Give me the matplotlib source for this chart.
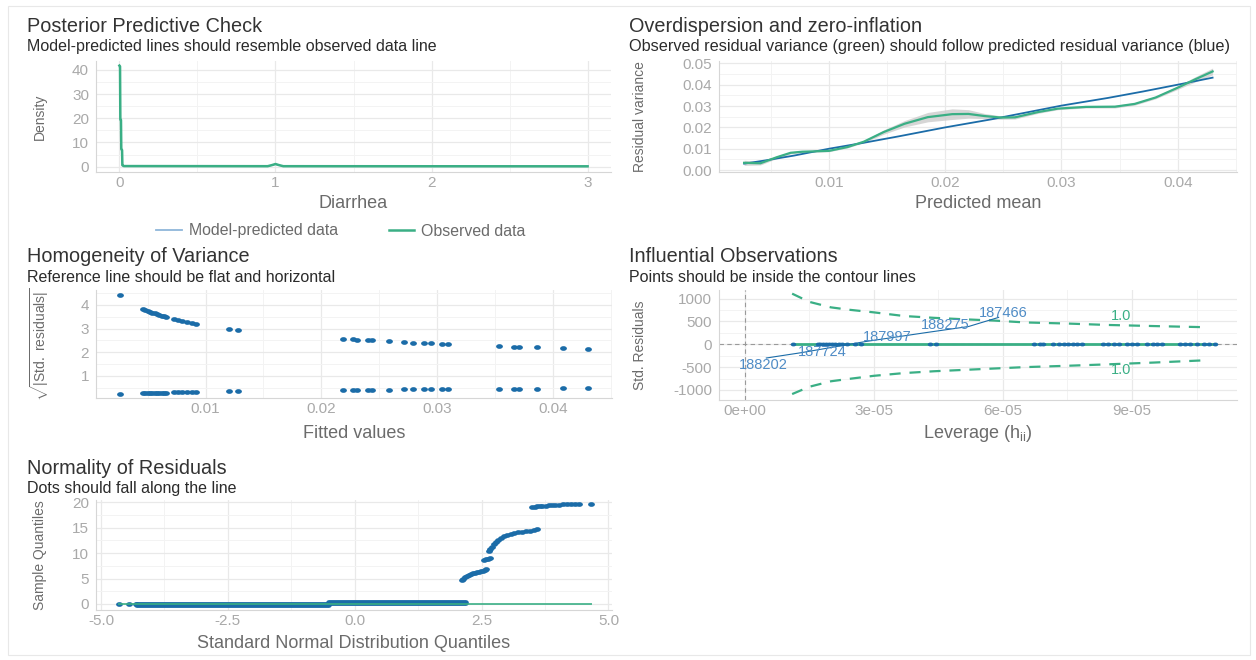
import matplotlib
matplotlib.use('Agg')
import matplotlib.pyplot as plt
from matplotlib.lines import Line2D
from matplotlib.patches import Rectangle
from matplotlib.path import Path
from matplotlib.transforms import Affine2D

plt.rcParams['font.family'] = ['Liberation Sans', 'DejaVu Sans']
plt.rcParams['mathtext.fontset'] = 'custom'
plt.rcParams['mathtext.rm'] = 'Liberation Sans'
plt.rcParams['mathtext.it'] = 'Liberation Sans:italic'

GREEN = '#3aaf85'
BLUE = '#1b6ca8'
LIGHTBLUE = '#8fb6da'
TITLE_C = '#333333'
AXT_C = '#6b6b6b'
TICK_C = '#a9a9a9'

# ---------------- data ----------------
# Posterior predictive check
ppc_x = [0.000, 0.004, 0.006, 0.010, 0.012, 0.017, 0.019, 0.026, 0.030, 0.950, 0.980, 1.000, 1.020, 1.050, 3.000]
ppc_obs = [41.8, 41.5, 19.5, 19.3, 7.2, 6.9, 0.6, 0.3, 0.25, 0.2, 0.7, 1.1, 0.7, 0.2, 0.15]
ppc_pred = [41.2, 40.9, 19.8, 19.5, 7.4, 7.0, 0.6, 0.3, 0.25, 0.2, 0.6, 1.0, 0.6, 0.2, 0.15]

# Overdispersion
od_x = [0.0027, 0.0041, 0.0055, 0.0067, 0.0077, 0.0100, 0.0116, 0.0130, 0.0147, 0.0165, 0.0185,
        0.0206, 0.0220, 0.0234, 0.0248, 0.0260, 0.0280, 0.0297, 0.0321, 0.0346, 0.0363, 0.0381,
        0.0400, 0.0415, 0.0430]
od_obs = [0.0034, 0.0032, 0.0060, 0.0081, 0.0086, 0.0090, 0.0108, 0.0133, 0.0178, 0.0217, 0.0248,
          0.0262, 0.0263, 0.0253, 0.0246, 0.0247, 0.0272, 0.0288, 0.0296, 0.0297, 0.0310, 0.0340,
          0.0386, 0.0425, 0.0462]
od_band = [0.0012, 0.0008, 0.0006, 0.0005, 0.0004, 0.0004, 0.0004, 0.0005, 0.0010, 0.0015, 0.0022,
           0.0025, 0.0020, 0.0012, 0.0008, 0.0008, 0.0006, 0.0005, 0.0005, 0.0006, 0.0006, 0.0006,
           0.0008, 0.0012, 0.0016]
od_pred_x = [0.0027, 0.0045, 0.0070, 0.0100, 0.0130, 0.0160, 0.0200, 0.0240, 0.0270, 0.0300,
             0.0340, 0.0370, 0.0400, 0.0430]
od_pred_y = [0.0030, 0.0045, 0.0068, 0.0100, 0.0128, 0.0158, 0.0200, 0.0238, 0.0270, 0.0302,
             0.0338, 0.0368, 0.0400, 0.0433]

# Homogeneity of variance
hv_fitted = [0.0026, 0.0046, 0.0048, 0.0050, 0.0052, 0.0054, 0.0056, 0.0058, 0.0060, 0.0062,
             0.0064, 0.0066, 0.0073, 0.0076, 0.0080, 0.0084, 0.0088, 0.0092, 0.0120, 0.0128,
             0.0219, 0.0227, 0.0231, 0.0240, 0.0244, 0.0258, 0.0271, 0.0279, 0.0289, 0.0295,
             0.0304, 0.0309, 0.0353, 0.0366, 0.0371, 0.0386, 0.0409, 0.0430]
hv_upper = [4.42, 3.83, 3.79, 3.75, 3.71, 3.68, 3.65, 3.61, 3.58, 3.55,
            3.52, 3.50, 3.41, 3.37, 3.33, 3.29, 3.25, 3.21, 3.00, 2.95,
            2.57, 2.55, 2.54, 2.51, 2.50, 2.46, 2.43, 2.41, 2.39, 2.38,
            2.36, 2.35, 2.27, 2.24, 2.24, 2.21, 2.18, 2.15]
hv_lower = [0.25, 0.28, 0.28, 0.28, 0.29, 0.29, 0.29, 0.29, 0.30, 0.30,
            0.30, 0.30, 0.31, 0.32, 0.32, 0.32, 0.33, 0.33, 0.35, 0.36,
            0.40, 0.41, 0.41, 0.41, 0.42, 0.42, 0.43, 0.43, 0.44, 0.44,
            0.44, 0.45, 0.46, 0.46, 0.47, 0.47, 0.48, 0.49]

# Influential observations
inf_lev = [1.12e-5, 1.69e-5, 1.75e-5, 1.82e-5, 1.88e-5, 1.95e-5, 2.02e-5, 2.10e-5, 2.18e-5,
           2.27e-5, 2.38e-5, 2.55e-5, 2.71e-5, 4.31e-5, 4.45e-5, 6.72e-5, 6.85e-5, 6.93e-5,
           7.16e-5, 7.30e-5, 7.42e-5, 7.52e-5, 7.62e-5, 7.72e-5, 7.84e-5, 8.33e-5, 8.45e-5,
           8.58e-5, 8.70e-5, 8.88e-5, 9.00e-5, 9.12e-5, 9.35e-5, 9.48e-5, 9.58e-5, 9.70e-5,
           1.012e-4, 1.022e-4, 1.035e-4, 1.051e-4, 1.068e-4, 1.080e-4, 1.093e-4]
inf_res = [4.4, -0.2, 3.8, -0.2, 3.7, -0.3, 3.6, -0.3, 3.5, -0.3, 3.4, -0.3, 3.3, 3.0, -0.3,
           2.6, -0.4, 2.5, -0.4, 2.5, -0.4, 2.4, -0.4, 2.4, -0.4, 2.3, -0.4, 2.3, -0.4, 2.2,
           -0.4, 2.2, -0.4, 2.2, -0.4, 2.2, -0.5, 2.2, -0.5, 2.1, -0.5, 2.1, -0.5]
inf_smooth_x = [1.12e-5, 1.093e-4]
inf_smooth_y = [0.0, 0.0]
cook_h = [1.1e-5, 1.5e-5, 2.0e-5, 2.4e-5, 3.0e-5, 3.7e-5, 4.4e-5, 5.1e-5, 5.8e-5, 6.5e-5,
          7.5e-5, 8.4e-5, 9.5e-5, 1.07e-4]
cook_up = [1110, 930, 810, 760, 700, 620, 580, 548, 520, 480, 455, 425, 400, 375]
cook_lo = [-1090, -930, -810, -760, -690, -630, -590, -560, -530, -500, -470, -440, -400, -350]
infl_ids = ['188202', '187724', '187997', '188275', '187466']
infl_lab_x = [0.42e-5, 1.80e-5, 3.30e-5, 4.65e-5, 6.00e-5]
infl_lab_y = [-450, -165, 150, 420, 690]
infl_path_x = [0.5e-5, 1.3e-5, 2.8e-5, 4.2e-5, 5.2e-5, 5.9e-5]
infl_path_y = [-300, -185, 60, 255, 390, 590]
cook_label = '1.0'
cook_lab_x = [8.75e-5, 8.75e-5]
cook_lab_y = [626, -563]

# Normality of residuals
qq_iso_x = [-4.65, -4.45, -4.32]
qq_iso_y = [-0.05, -0.05, -0.05]
qq_band1_x = [-4.30, -0.50]
qq_band1_y = [-0.12, -0.12]
qq_band2_x = [-0.50, 2.20]
qq_band2_y = [0.15, 0.15]
qq_tail_x = [2.11, 2.14, 2.17, 2.21, 2.25, 2.29, 2.33, 2.37, 2.41, 2.45, 2.49, 2.53, 2.56, 2.59,
             2.54, 2.58, 2.62, 2.66,
             2.64, 2.67, 2.70, 2.74, 2.78, 2.83, 2.88, 2.94, 3.00, 3.07, 3.14, 3.22, 3.30, 3.38,
             3.46, 3.54, 3.60,
             3.50, 3.55, 3.60, 3.65, 3.70, 3.76, 3.82, 3.88, 3.95, 4.02, 4.10, 4.18, 4.26, 4.34,
             4.42, 4.65]
qq_tail_y = [4.7, 5.0, 5.3, 5.6, 5.8, 5.9, 6.0, 6.1, 6.2, 6.3, 6.4, 6.5, 6.6, 6.8,
             8.7, 8.85, 8.9, 9.0,
             10.4, 10.9, 11.3, 11.7, 12.1, 12.5, 12.9, 13.3, 13.6, 13.8, 14.0, 14.1, 14.2, 14.3,
             14.4, 14.5, 14.7,
             19.1, 19.15, 19.2, 19.25, 19.3, 19.35, 19.45, 19.5, 19.55, 19.55, 19.6, 19.6, 19.6,
             19.6, 19.6, 19.6]
qq_line_x = [-4.65, 4.65]
qq_line_y = [0.0, 0.0]

# ---------------- layout ----------------
W, H = 1256, 660
fig = plt.figure(figsize=(W / 100, H / 100), dpi=100)
fig.patch.set_facecolor('white')
fig.add_artist(Rectangle((8 / W, 1 - 655 / H), (1250 - 8) / W, (655 - 6) / H,
                         transform=fig.transFigure, fill=False, edgecolor='#e8e8e8', lw=0.8))

# wide (horizontally stretched) dot marker, as in the reference
_circ = Path.unit_circle()
WIDE_DOT = Path(Affine2D().scale(1.45, 1.0).transform(_circ.vertices), _circ.codes)


def add_ax(l, r, t, b):
    ax = fig.add_axes([l / W, 1 - b / H, (r - l) / W, (b - t) / H])
    ax.set_facecolor('white')
    return ax


def style(ax, xlim, ylim, xmaj, xmin, ymaj, ymin, xlabels=None, ylabels=None):
    ax.set_xlim(xlim)
    ax.set_ylim(ylim)
    ax.set_xticks(xmaj)
    ax.set_xticks(xmin, minor=True)
    ax.set_yticks(ymaj)
    ax.set_yticks(ymin, minor=True)
    if xlabels is not None:
        ax.set_xticklabels(xlabels)
    if ylabels is not None:
        ax.set_yticklabels(ylabels)
    ax.grid(which='major', color='#e9e9e9', lw=0.9)
    ax.grid(which='minor', color='#f3f3f3', lw=0.7)
    ax.set_axisbelow(True)
    for s in ['top', 'right']:
        ax.spines[s].set_visible(False)
    for s in ['left', 'bottom']:
        ax.spines[s].set_color('#d6d6d6')
        ax.spines[s].set_linewidth(0.8)
    ax.tick_params(which='both', length=0, colors=TICK_C, labelsize=11)
    ax.tick_params(axis='x', pad=3)
    ax.tick_params(axis='y', pad=5)


def titles(x, y, title, sub, subsize=11.5):
    fig.text(x / W, 1 - (y + 2) / H, title, fontsize=14.3, color=TITLE_C, va='center', ha='left')
    fig.text(x / W, 1 - (y + 22) / H, sub, fontsize=subsize, color='#2b2b2b', va='center', ha='left')


def axtitles(l, r, t, b, xl, yl, xl_y, yl_x):
    cx = (l + r) / 2
    cy = (t + b) / 2
    fig.text(cx / W, 1 - xl_y / H, xl, fontsize=13, color=AXT_C, ha='center', va='center')
    fig.text(yl_x / W, 1 - cy / H, yl, fontsize=10, color=AXT_C, ha='center', va='center',
             rotation=90)


def dots(ax, x, y, s=24, z=3):
    ax.scatter(x, y, s=s, marker=WIDE_DOT, color=BLUE, lw=0, zorder=z)


# ---- Posterior predictive check ----
L1, R1, T1, B1 = 96, 611, 61, 172
ax1 = add_ax(L1, R1, T1, B1)
style(ax1, (-0.15, 3.15), (-2.2, 43.7), [0, 1, 2, 3], [0.5, 1.5, 2.5],
      [0, 10, 20, 30, 40], [5, 15, 25, 35], ['0', '1', '2', '3'])
ax1.plot(ppc_x, ppc_pred, color=LIGHTBLUE, lw=1.0)
ax1.plot(ppc_x, ppc_obs, color=GREEN, lw=1.8)
titles(27, 25, 'Posterior Predictive Check', 'Model-predicted lines should resemble observed data line')
axtitles(L1, R1, T1, B1, 'Diarrhea', 'Density', 204, 40)
handles = [Line2D([0], [0], color=LIGHTBLUE, lw=1.3), Line2D([0], [0], color=GREEN, lw=1.8)]
fig.legend(handles, ['Model-predicted data', 'Observed data'], loc='center',
           bbox_to_anchor=(341 / W, 1 - 231 / H), ncol=2, frameon=False, fontsize=11.4,
           handlelength=1.6, handletextpad=0.45, columnspacing=3.2, labelcolor=AXT_C)

# ---- Overdispersion ----
L2, R2, T2, B2 = 719, 1237, 61, 172
ax2 = add_ax(L2, R2, T2, B2)
style(ax2, (0.00054, 0.0451), (-0.0009, 0.0511), [0.01, 0.02, 0.03, 0.04],
      [0.005, 0.015, 0.025, 0.035, 0.045],
      [0.0, 0.01, 0.02, 0.03, 0.04, 0.05], [0.005, 0.015, 0.025, 0.035, 0.045],
      ['0.01', '0.02', '0.03', '0.04'], ['0.00', '0.01', '0.02', '0.03', '0.04', '0.05'])
lo = [o - b for o, b in zip(od_obs, od_band)]
hi = [o + b for o, b in zip(od_obs, od_band)]
ax2.fill_between(od_x, lo, hi, color='#c9c9c9', alpha=0.75, lw=0)
ax2.plot(od_pred_x, od_pred_y, color=BLUE, lw=1.3)
ax2.plot(od_x, od_obs, color=GREEN, lw=1.6)
titles(629, 25, 'Overdispersion and zero-inflation',
       'Observed residual variance (green) should follow predicted residual variance (blue)', 11.7)
axtitles(L2, R2, T2, B2, 'Predicted mean', 'Residual variance', 204, 640)

# ---- Homogeneity of variance ----
L3, R3, T3, B3 = 96, 612, 290, 398
ax3 = add_ax(L3, R3, T3, B3)
style(ax3, (0.00054, 0.0451), (0.07, 4.63), [0.01, 0.02, 0.03, 0.04],
      [0.005, 0.015, 0.025, 0.035, 0.045], [1, 2, 3, 4], [0.5, 1.5, 2.5, 3.5, 4.5],
      ['0.01', '0.02', '0.03', '0.04'])
dots(ax3, hv_fitted, hv_upper)
dots(ax3, hv_fitted, hv_lower)
titles(27, 255, 'Homogeneity of Variance', 'Reference line should be flat and horizontal')
axtitles(L3, R3, T3, B3, 'Fitted values', r'$\sqrt{|\mathrm{Std.\ residuals}|}$', 433, 40)

# ---- Influential observations ----
L4, R4, T4, B4 = 719, 1237, 290, 400
ax4 = add_ax(L4, R4, T4, B4)
style(ax4, (-0.6e-5, 1.144e-4), (-1220, 1190), [0, 3e-5, 6e-5, 9e-5],
      [1.5e-5, 4.5e-5, 7.5e-5, 10.5e-5], [-1000, -500, 0, 500, 1000],
      [-750, -250, 250, 750], ['0e+00', '3e-05', '6e-05', '9e-05'],
      ['-1000', '-500', '0', '500', '1000'])
ax4.axhline(0, color='#9a9a9a', lw=0.8, ls=(0, (4, 3)), zorder=2)
ax4.axvline(0, color='#9a9a9a', lw=0.8, ls=(0, (4, 3)), zorder=2)
ax4.plot(cook_h, cook_up, color=GREEN, lw=1.6, ls=(0, (5, 4)), zorder=3)
ax4.plot(cook_h, cook_lo, color=GREEN, lw=1.6, ls=(0, (5, 4)), zorder=3)
ax4.plot(inf_smooth_x, inf_smooth_y, color=GREEN, lw=2.0, zorder=3)
dots(ax4, inf_lev, inf_res, s=16, z=4)
ax4.plot(infl_path_x, infl_path_y, color=BLUE, lw=0.8, zorder=4)
for lx, ly, lab in zip(infl_lab_x, infl_lab_y, infl_ids):
    ax4.text(lx, ly, lab, color='#4f8cc6', fontsize=10.5, ha='center', va='center', zorder=5)
for lx, ly in zip(cook_lab_x, cook_lab_y):
    ax4.text(lx, ly, cook_label, color=GREEN, fontsize=10.5, ha='center', va='center', zorder=5)
titles(629, 255, 'Influential Observations', 'Points should be inside the contour lines')
axtitles(L4, R4, T4, B4, r'Leverage (h$_{\mathrm{ii}}$)', 'Std. Residuals', 433, 640)

# ---- Normality of residuals ----
L5, R5, T5, B5 = 96, 612, 500, 610
ax5 = add_ax(L5, R5, T5, B5)
style(ax5, (-5.1, 5.07), (-1.18, 20.45), [-5, -2.5, 0, 2.5, 5],
      [-3.75, -1.25, 1.25, 3.75], [0, 5, 10, 15, 20], [2.5, 7.5, 12.5, 17.5],
      ['-5.0', '-2.5', '0.0', '2.5', '5.0'])
ax5.plot(qq_band1_x, qq_band1_y, color=BLUE, lw=4.2, solid_capstyle='round', zorder=3)
ax5.plot(qq_band2_x, qq_band2_y, color=BLUE, lw=4.2, solid_capstyle='round', zorder=3)
dots(ax5, qq_iso_x, qq_iso_y)
dots(ax5, qq_tail_x, qq_tail_y)
ax5.plot(qq_line_x, qq_line_y, color=GREEN, lw=1.4, zorder=4, alpha=0.85)
titles(27, 466, 'Normality of Residuals', 'Dots should fall along the line')
axtitles(L5, R5, T5, B5, 'Standard Normal Distribution Quantiles', 'Sample Quantiles', 643, 40)

fig.savefig('out.png', dpi=100, facecolor='white')
